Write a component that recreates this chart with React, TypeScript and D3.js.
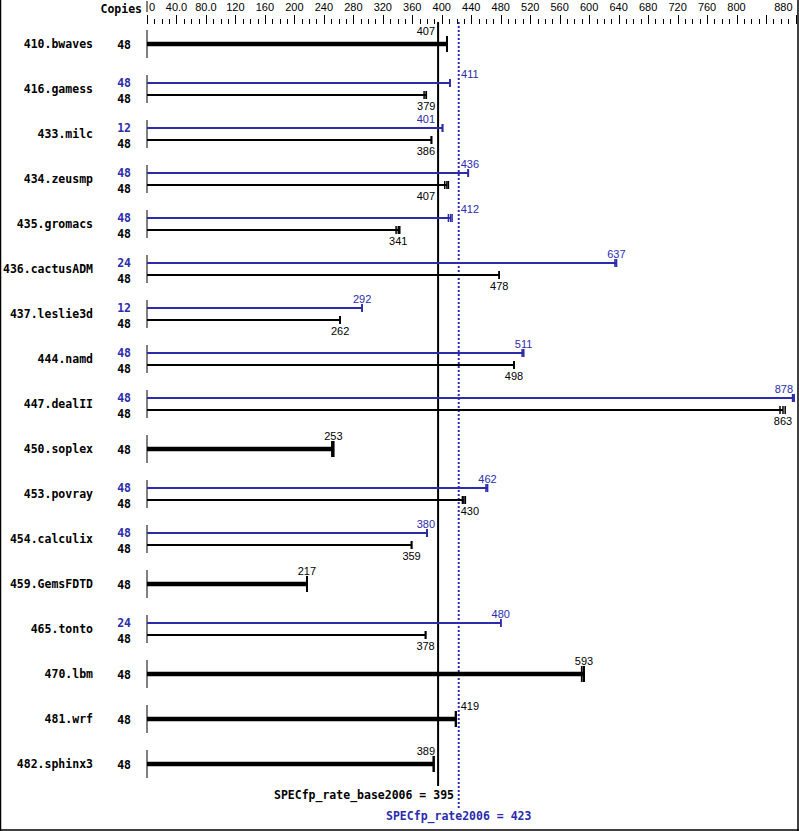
import React from "react";
import * as d3 from "d3";

const benchmarks = ["410.bwaves","416.gamess","433.milc","434.zeusmp","435.gromacs","436.cactusADM","437.leslie3d","444.namd","447.dealII","450.soplex","453.povray","454.calculix","459.GemsFDTD","465.tonto","470.lbm","481.wrf","482.sphinx3"];
const peakCopies: (number | null)[] = [null,48,12,48,48,24,12,48,48,null,48,48,null,24,null,null,null];
const baseCopies = [48,48,48,48,48,48,48,48,48,48,48,48,48,48,48,48,48];
const peakValues: (number | null)[] = [null,411,401,436,412,637,292,511,878,null,462,380,null,480,null,null,null];
const baseValues = [407,379,386,407,341,478,262,498,863,253,430,359,217,378,593,419,389];
const peakRuns: (number[] | null)[] = [null,[411,411,411],[401,401,401],[436,436,436],[409,412,414],[635,637,637],[292,292,292],[509,511,511],[876,878,878],null,[460,462,462],[380,380,380],null,[480,480,480],null,null,null];
const baseRuns = [[407,407,407],[376,379,379],[386,386,386],[404,407,409],[338,341,343],[478,478,478],[262,262,262],[498,498,498],[859,863,866],[251,253,253],[428,430,432],[359,359,359],[217,217,217],[378,378,378],[590,593,593],[419,419,419],[389,389,389]];
const tickValues = [0,40,80,120,160,200,240,280,320,360,400,440,480,520,560,600,640,680,720,760,800,880];
const tickLabels = ["0","40.0","80.0","120","160","200","240","280","320","360","400","440","480","520","560","600","640","680","720","760","800","880"];
const baseMean = 395;
const peakMean = 423;

const W = 799, H = 831;
const BLUE = "#2b2bab";
const MONO = "'DejaVu Sans Mono', monospace";
const SANS = "'Liberation Sans', Arial, sans-serif";

export default function App() {
  const x = d3.scaleLinear().domain([0, 880]).range([147, 795.5]);
  const y = (i: number) => 44 + i * 45;
  const xb = x(baseMean), xp = x(peakMean);
  const labelW = 18.3;

  const placeLabel = (v: number) => {
    const e = x(v);
    const overlaps = (c: number) => {
      const a = c - labelW / 2, b = c + labelW / 2;
      return (a < xb + 2 && b > xb - 2) || (a < xp + 2 && b > xp - 2);
    };
    let pos = e;
    if (overlaps(e)) {
      const cands = [xb - 3 - labelW / 2, xp + 2 + labelW / 2, xb + 3 + labelW / 2, xp - 3 - labelW / 2].filter((c) => !overlaps(c));
      let best = cands[0];
      for (const c of cands) if (Math.abs(c - e) < Math.abs(best - e)) best = c;
      pos = best;
    }
    return Math.min(pos, W - 6 - labelW / 2);
  };

  const minorTicks = d3.range(0, 881, 10);

  return (
    <svg width={W} height={H} style={{ position: "absolute", left: 0, top: 0, background: "#fff" }}>
      <rect x={0} y={0} width={W} height={H} fill="#fff" />
      <line x1={0.5} y1={0} x2={0.5} y2={H} stroke="#000" strokeWidth={1.5} />
      <line x1={W - 1} y1={0} x2={W - 1} y2={H} stroke="#000" strokeWidth={1.5} />
      <line x1={0} y1={H - 1} x2={W} y2={H - 1} stroke="#000" strokeWidth={1.5} />

      {/* Top axis */}
      <text x={142} y={13} textAnchor="end" fontFamily={MONO} fontWeight="bold" fontSize={11.5}>Copies</text>
      <line x1={x(0)} y1={1} x2={x(0)} y2={12} stroke="#000" strokeWidth={1} />
      {tickValues.map((v, i) => (
        <text key={"tl" + i} x={i === 0 ? x(v) + 2 : v === 880 ? x(v) - 3 : x(v)} y={11}
          textAnchor={i === 0 ? "start" : v === 880 ? "end" : "middle"} fontFamily={SANS} fontSize={11}>{tickLabels[i]}</text>
      ))}
      {minorTicks.map((v) => (
        <line key={"mt" + v} x1={Math.round(x(v)) + 0.5} x2={Math.round(x(v)) + 0.5} y1={v % 40 === 0 ? 15 : 19} y2={24} stroke="#000" strokeWidth={1} />
      ))}

      {/* Reference lines */}
      <line x1={xb} x2={xb} y1={22} y2={786} stroke="#000" strokeWidth={2} />
      <line x1={xp} x2={xp} y1={22} y2={808} stroke={BLUE} strokeWidth={2} strokeDasharray="2,2" />

      {benchmarks.map((name, i) => {
        const c = y(i);
        const pv = peakValues[i];
        const hasPeak = pv !== null;
        return (
          <g key={name}>
            <text x={93} y={c + 4} textAnchor="end" fontFamily={MONO} fontWeight="bold" fontSize={11.5}>{name}</text>
            <line x1={x(0)} x2={x(0)} y1={c - 14} y2={c + 14} stroke="#000" strokeWidth={1} />
            {hasPeak ? (
              <g>
                <text x={131} y={c - 2} textAnchor="end" fontFamily={MONO} fontWeight="bold" fontSize={11.5} fill={BLUE}>{peakCopies[i]}</text>
                <text x={131} y={c + 14} textAnchor="end" fontFamily={MONO} fontWeight="bold" fontSize={11.5}>{baseCopies[i]}</text>
                <line x1={x(0)} x2={x(pv as number)} y1={c - 6} y2={c - 6} stroke={BLUE} strokeWidth={2} />
                {(peakRuns[i] as number[]).map((r, k) => (
                  <line key={"pr" + k} x1={x(r)} x2={x(r)} y1={c - 10} y2={c - 2} stroke={BLUE} strokeWidth={1.5} />
                ))}
                <text x={placeLabel(pv as number)} y={c - 11} textAnchor="middle" fontFamily={SANS} fontSize={11} fill={BLUE}>{pv}</text>
                <line x1={x(0)} x2={x(baseValues[i])} y1={c + 6} y2={c + 6} stroke="#000" strokeWidth={2} />
                {baseRuns[i].map((r, k) => (
                  <line key={"br" + k} x1={x(r)} x2={x(r)} y1={c + 2} y2={c + 10} stroke="#000" strokeWidth={1.5} />
                ))}
                <text x={placeLabel(baseValues[i])} y={c + 21} textAnchor="middle" fontFamily={SANS} fontSize={11}>{baseValues[i]}</text>
              </g>
            ) : (
              <g>
                <text x={131} y={c + 5} textAnchor="end" fontFamily={MONO} fontWeight="bold" fontSize={11.5}>{baseCopies[i]}</text>
                <line x1={x(0)} x2={x(baseValues[i])} y1={c} y2={c} stroke="#000" strokeWidth={4.5} />
                {baseRuns[i].map((r, k) => (
                  <line key={"br" + k} x1={x(r)} x2={x(r)} y1={c - 8} y2={c + 8} stroke="#000" strokeWidth={1.8} />
                ))}
                <text x={placeLabel(baseValues[i])} y={c - 9} textAnchor="middle" fontFamily={SANS} fontSize={11}>{baseValues[i]}</text>
              </g>
            )}
          </g>
        );
      })}

      <text x={454} y={799} textAnchor="end" fontFamily={MONO} fontWeight="bold" fontSize={11.5}>SPECfp_rate_base2006 = {baseMean}</text>
      <text x={xp} y={820} textAnchor="middle" fontFamily={MONO} fontWeight="bold" fontSize={11.5} fill={BLUE}>SPECfp_rate2006 = {peakMean}</text>
    </svg>
  );
}
